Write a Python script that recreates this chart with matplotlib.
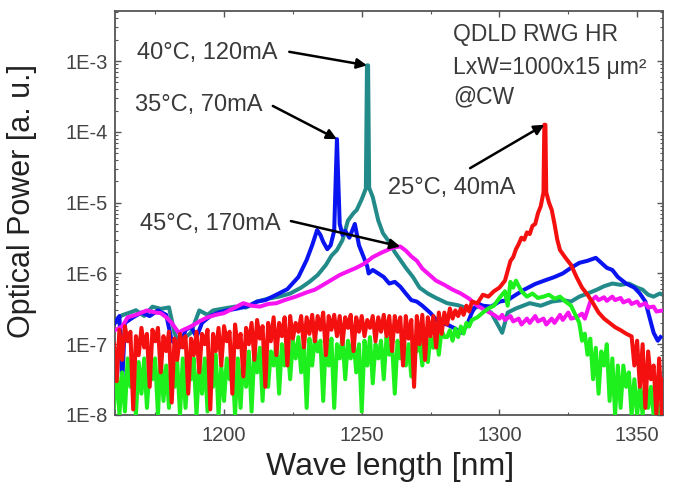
import numpy as np
import matplotlib
matplotlib.use("Agg")
import matplotlib.pyplot as plt
from matplotlib.ticker import FixedLocator, FuncFormatter, LogLocator, NullFormatter

plt.rcParams['font.family'] = ['Liberation Sans', 'DejaVu Sans']

# ---------------- data ----------------
# common 1-nm grid used for the noisy low-level parts of the red / green spectra
grid_wl = [1160, 1161, 1162, 1163, 1164, 1165, 1166, 1167, 1168, 1169,
           1170, 1171, 1172, 1173, 1174, 1175, 1176, 1177, 1178, 1179,
           1180, 1181, 1182, 1183, 1184, 1185, 1186, 1187, 1188, 1189,
           1190, 1191, 1192, 1193, 1194, 1195, 1196, 1197, 1198, 1199,
           1200, 1201, 1202, 1203, 1204, 1205, 1206, 1207, 1208, 1209,
           1210, 1211, 1212, 1213, 1214, 1215, 1216, 1217, 1218, 1219,
           1220, 1221, 1222, 1223, 1224, 1225, 1226, 1227, 1228, 1229,
           1230, 1231, 1232, 1233, 1234, 1235, 1236, 1237, 1238, 1239,
           1240, 1241, 1242, 1243, 1244, 1245, 1246, 1247, 1248, 1249,
           1250, 1251, 1252, 1253, 1254, 1255, 1256, 1257, 1258, 1259,
           1260, 1261, 1262, 1263, 1264, 1265, 1266, 1267, 1268, 1269,
           1270, 1271, 1272, 1273, 1274, 1275, 1276, 1277, 1278, 1279,
           1280, 1281, 1282, 1283, 1284, 1285, 1286, 1287, 1288, 1289,
           1290]

# 25 C, 40 mA (red)
red_grid_p = [1.0e-7, 3.0e-8, 1.6e-7, 6.0e-8, 1.8e-7, 1.1e-7, 1.5e-7, 1.2e-8, 1.3e-7, 7.0e-8,
              1.7e-7, 9.0e-8, 1.4e-7, 2.5e-8, 1.6e-7, 1.1e-7, 1.7e-7, 4.0e-8, 1.3e-7, 8.0e-8,
              1.5e-7, 1.5e-8, 1.2e-7, 6.0e-8, 1.4e-7, 9.0e-8, 1.3e-7, 2.0e-8, 1.2e-7, 7.0e-8,
              1.5e-7, 4.0e-8, 1.4e-7, 1.0e-7, 1.6e-7, 1.2e-8, 1.4e-7, 8.0e-8, 1.7e-7, 5.0e-8,
              1.8e-7, 1.1e-7, 1.5e-7, 2.0e-8, 1.9e-7, 9.0e-8, 1.4e-7, 3.5e-8, 1.7e-7, 1.0e-7,
              2.0e-7, 6.0e-8, 2.2e-7, 1.2e-7, 1.8e-7, 2.5e-8, 2.0e-7, 1.1e-7, 2.4e-7, 7.0e-8,
              2.0e-7, 1.3e-7, 2.4e-7, 5.0e-8, 2.5e-7, 1.2e-7, 2.0e-7, 1.5e-7, 2.5e-7, 9.0e-8,
              2.4e-7, 1.4e-7, 2.6e-7, 1.1e-7, 2.5e-7, 1.6e-7, 2.8e-7, 7.0e-8, 2.5e-7, 1.6e-7,
              2.6e-7, 1.3e-7, 2.5e-7, 1.0e-7, 2.4e-7, 1.7e-7, 2.6e-7, 8.0e-8, 2.4e-7, 1.5e-7,
              2.5e-7, 1.3e-7, 2.2e-7, 1.7e-7, 2.5e-7, 1.1e-7, 2.4e-7, 1.5e-7, 2.6e-7, 1.3e-7,
              2.5e-7, 8.0e-8, 2.5e-7, 1.5e-7, 2.4e-7, 5.0e-8, 2.5e-7, 1.2e-7, 2.2e-7, 2.5e-8,
              2.5e-7, 1.0e-7, 2.6e-7, 6.0e-8, 2.4e-7, 1.3e-7, 2.5e-7, 9.0e-8, 2.8e-7, 1.4e-7,
              2.8e-7, 1.9e-7, 3.2e-7, 2.3e-7, 3.0e-7, 2.5e-7, 3.2e-7, 2.6e-7, 3.5e-7, 2.9e-7,
              4.0e-7]
red_tail_wl = [1292, 1294, 1296, 1298, 1300, 1302, 1304, 1305, 1306, 1307, 1308, 1309, 1310,
               1311, 1312, 1313, 1314, 1315, 1316, 1316.3, 1316.7, 1317, 1318, 1319, 1320,
               1321, 1322, 1324, 1326, 1328, 1330, 1332, 1334, 1336, 1338, 1340, 1342, 1344,
               1346, 1348, 1349, 1350, 1351, 1352, 1353, 1354, 1355, 1356, 1357, 1358, 1359,
               1359.5]
red_tail_p = [3.8e-7, 5.0e-7, 4.7e-7, 5.6e-7, 6.3e-7, 7.9e-7, 1.5e-6, 1.7e-6, 2.2e-6, 2.6e-6,
              3.2e-6, 3.0e-6, 3.8e-6, 3.6e-6, 4.7e-6, 5.0e-6, 7.1e-6, 8.9e-6, 1.4e-5, 1.26e-4,
              1.26e-4, 1.4e-5, 1.0e-5, 7.9e-6, 5.0e-6, 3.0e-6, 2.14e-6, 1.66e-6, 1.32e-6, 8.9e-7,
              6.3e-7, 5.0e-7, 3.8e-7, 2.8e-7, 2.3e-7, 2.0e-7, 1.74e-7, 1.58e-7, 1.41e-7, 1.29e-7,
              5.0e-8, 1.12e-7, 2.5e-8, 1.0e-7, 1.26e-8, 7.9e-8, 3.2e-8, 5.0e-8, 1.0e-8, 6.3e-8,
              1.0e-8, 3.2e-8]

# green (unlabelled)
green_grid_p = [1.26e-8, 5.0e-8, 1.0e-8, 4.0e-8, 1.12e-8, 6.3e-8, 2.5e-8, 5.0e-8, 1.0e-8, 5.6e-8,
                2.0e-8, 6.3e-8, 1.26e-8, 5.0e-8, 3.2e-8, 6.3e-8, 1.0e-8, 7.1e-8, 1.58e-8, 5.0e-8,
                1.26e-8, 6.3e-8, 2.5e-8, 5.6e-8, 1.0e-8, 6.3e-8, 1.26e-8, 5.0e-8, 3.2e-8, 6.3e-8,
                1.0e-8, 5.6e-8, 2.0e-8, 6.3e-8, 1.12e-8, 5.0e-8, 2.5e-8, 7.1e-8, 1.0e-8, 5.0e-8,
                1.58e-8, 6.3e-8, 3.2e-8, 5.6e-8, 1.0e-8, 6.3e-8, 1.26e-8, 7.1e-8, 2.5e-8, 7.9e-8,
                1.12e-8, 7.9e-8, 4.0e-8, 8.9e-8, 1.58e-8, 1.0e-7, 2.5e-8, 7.9e-8, 5.0e-8, 1.05e-7,
                2.0e-8, 1.0e-7, 5.0e-8, 1.12e-7, 3.2e-8, 1.12e-7, 6.3e-8, 1.26e-7, 4.0e-8, 1.12e-7,
                1.26e-8, 1.2e-7, 5.0e-8, 1.26e-7, 7.9e-8, 1.12e-7, 1.58e-8, 1.26e-7, 5.0e-8, 1.2e-7,
                1.26e-8, 1.0e-7, 6.3e-8, 1.26e-7, 3.2e-8, 1.12e-7, 6.3e-8, 1.2e-7, 4.0e-8, 1.0e-7,
                1.12e-8, 1.12e-7, 5.0e-8, 1.26e-7, 2.8e-8, 1.0e-7, 6.3e-8, 1.12e-7, 3.2e-8, 1.26e-7,
                7.1e-8, 1.0e-7, 2.0e-8, 1.12e-7, 6.3e-8, 1.2e-7, 5.0e-8, 1.0e-7, 3.5e-8, 1.26e-7,
                7.9e-8, 1.12e-7, 5.0e-8, 1.41e-7, 5.6e-8, 1.26e-7, 8.9e-8, 1.41e-7, 7.1e-8, 1.58e-7,
                1.26e-7, 1.26e-7, 1.58e-7, 1.12e-7, 1.66e-7, 1.26e-7, 1.78e-7, 1.41e-7, 2.0e-7, 1.78e-7,
                2.2e-7]
green_tail_wl = [1292, 1294, 1296, 1298, 1300, 1302, 1303, 1304, 1305, 1306, 1308, 1310, 1312,
                 1314, 1316, 1318, 1320, 1322, 1324, 1326, 1328, 1329, 1330, 1331, 1332, 1333,
                 1334, 1335, 1336, 1337, 1338, 1339, 1340, 1341, 1342, 1343, 1344, 1345, 1346,
                 1347, 1348, 1349, 1350, 1351, 1352, 1353, 1354, 1355, 1356, 1357, 1358, 1359.5]
green_tail_p = [2.4e-7, 2.8e-7, 3.2e-7, 3.5e-7, 4.5e-7, 5.6e-7, 3.5e-7, 7.6e-7, 6.3e-7, 7.9e-7,
                5.6e-7, 4.7e-7, 5.2e-7, 4.5e-7, 4.7e-7, 5.0e-7, 4.4e-7, 4.7e-7, 4.0e-7, 3.5e-7,
                2.4e-7, 2.0e-7, 1.12e-7, 1.41e-7, 7.1e-8, 1.2e-7, 3.2e-8, 8.9e-8, 2.0e-8, 7.9e-8,
                5.0e-8, 1.0e-7, 1.58e-8, 6.3e-8, 1.0e-8, 5.0e-8, 1.26e-8, 5.0e-8, 2.5e-8, 4.0e-8,
                1.0e-8, 3.2e-8, 1.0e-8, 2.5e-8, 1.0e-8, 3.2e-8, 1.26e-8, 2.5e-8, 1.0e-8, 2.0e-8,
                1.0e-8, 1.58e-8]

# 35 C, 70 mA (blue)
blue_wl = [1160.4, 1162, 1163, 1164, 1167, 1170, 1173, 1176, 1179, 1181, 1184, 1186, 1188, 1190,
           1192, 1195, 1198, 1201, 1205, 1209, 1212, 1215, 1219, 1223, 1227, 1230, 1232, 1233.8,
           1235, 1236, 1237.5, 1238.7, 1240, 1240.6, 1241.0, 1241.4, 1242, 1243, 1244, 1245.5,
           1247.5, 1249, 1250.5, 1252, 1252.5, 1254, 1256, 1258, 1260, 1262, 1264, 1266, 1268,
           1270, 1272, 1275, 1278, 1281, 1284, 1286, 1288, 1290, 1292, 1294, 1297, 1300, 1303,
           1306, 1309, 1313, 1317, 1320, 1323, 1326, 1329, 1332, 1335, 1337, 1339, 1341, 1343,
           1346, 1349, 1351, 1353, 1354.5, 1356, 1357.5, 1358.5]
blue_p = [2.0e-7, 2.5e-7, 2.8e-8, 2.0e-7, 2.4e-7, 2.8e-7, 2.5e-7, 3.0e-7, 2.6e-7, 1.12e-7,
          9.1e-8, 1.58e-7, 1.78e-7, 1.26e-7, 2.0e-7, 2.5e-7, 2.8e-7, 3.0e-7, 3.2e-7, 3.5e-7,
          4.0e-7, 4.2e-7, 5.0e-7, 6.0e-7, 8.9e-7, 1.55e-6, 2.5e-6, 4.1e-6, 3.5e-6, 2.8e-6,
          2.2e-6, 2.5e-6, 4.0e-6, 2.5e-5, 7.9e-5, 2.5e-5, 5.0e-6, 3.5e-6, 4.0e-6, 3.2e-6,
          5.0e-6, 2.5e-6, 1.78e-6, 1.26e-6, 1.0e-6, 1.12e-6, 1.0e-6, 8.9e-7, 7.2e-7, 7.6e-7,
          6.5e-7, 5.2e-7, 4.2e-7, 4.0e-7, 3.5e-7, 2.75e-7, 2.0e-7, 1.9e-7, 1.66e-7, 1.45e-7,
          1.78e-7, 2.8e-7, 3.8e-7, 3.5e-7, 3.4e-7, 4.0e-7, 4.2e-7, 5.0e-7, 5.9e-7, 7.1e-7,
          8.1e-7, 8.9e-7, 1.0e-6, 1.2e-6, 1.41e-6, 1.51e-6, 1.66e-6, 1.41e-6, 1.2e-6, 1.12e-6,
          8.9e-7, 7.2e-7, 6.3e-7, 5.2e-7, 4.0e-7, 2.4e-7, 1.45e-7, 1.12e-7, 1.26e-7]

# 40 C, 120 mA (teal)
teal_wl = [1160.4, 1163, 1166, 1168, 1171, 1174, 1177, 1180, 1182, 1184, 1186, 1188, 1191, 1194,
           1196, 1200, 1204, 1208, 1212, 1216, 1220, 1224, 1228, 1231, 1234, 1237, 1239, 1241,
           1243, 1245, 1247, 1248.2, 1250, 1251.5, 1251.9, 1252.3, 1252.7, 1254, 1256, 1257.7,
           1260.2, 1262, 1264, 1266, 1268.6, 1271, 1274, 1277, 1281, 1285, 1289, 1293, 1297,
           1301, 1303, 1306, 1311, 1315, 1319, 1323, 1326, 1329, 1332, 1335.4, 1338, 1341, 1344,
           1347, 1350, 1352, 1354, 1356, 1358.2, 1359.4]
teal_p = [2.19e-7, 2.57e-7, 2.82e-7, 3.02e-7, 2.51e-7, 3.39e-7, 3.16e-7, 3.31e-7, 1.45e-7, 9.1e-8,
          1.26e-7, 1.45e-7, 3.0e-7, 2.6e-7, 3.0e-7, 3.2e-7, 3.4e-7, 3.3e-7, 4.0e-7, 4.4e-7,
          4.7e-7, 5.2e-7, 6.3e-7, 7.6e-7, 9.5e-7, 1.32e-6, 1.78e-6, 2.14e-6, 2.95e-6, 5.6e-6,
          7.1e-6, 7.9e-6, 1.12e-5, 1.58e-5, 8.7e-4, 8.7e-4, 1.62e-5, 1.2e-5, 5.6e-6, 3.7e-6,
          2.7e-6, 2.0e-6, 1.55e-6, 1.2e-6, 8.9e-7, 6.3e-7, 5.2e-7, 4.5e-7, 3.8e-7, 3.55e-7,
          3.16e-7, 3.4e-7, 2.8e-7, 1.45e-7, 2.8e-7, 3.2e-7, 3.8e-7, 3.5e-7, 4.0e-7, 4.2e-7,
          4.0e-7, 4.7e-7, 5.2e-7, 5.9e-7, 6.6e-7, 7.2e-7, 6.9e-7, 7.2e-7, 6.3e-7, 5.9e-7,
          5.0e-7, 4.7e-7, 5.2e-7, 5.0e-7]

# 45 C, 170 mA (magenta)
mag_wl = [1160.4, 1163, 1165, 1168, 1172, 1175, 1177, 1179, 1181, 1183.5, 1185, 1188, 1191, 1194,
          1197, 1200, 1204, 1207, 1210, 1213, 1216, 1219, 1222, 1226, 1230, 1233, 1236, 1239,
          1242, 1245, 1248, 1251, 1254, 1257, 1260, 1262, 1264, 1266, 1268, 1270, 1272, 1274,
          1277, 1280, 1283, 1286, 1289, 1292, 1295, 1298, 1300, 1301, 1302, 1304, 1305, 1307,
          1308, 1310, 1311, 1313, 1314, 1316, 1317, 1319, 1320, 1322, 1323, 1325, 1326, 1328,
          1330, 1331, 1333, 1335, 1336, 1338, 1339, 1341, 1342, 1344, 1345, 1347, 1348, 1350,
          1351, 1353, 1354, 1356, 1357, 1359.4]
mag_p = [1.58e-7, 1.78e-7, 2.4e-7, 2.6e-7, 3.0e-7, 2.8e-7, 2.75e-7, 2.4e-7, 2.0e-7, 1.45e-7,
         1.58e-7, 1.78e-7, 2.1e-7, 2.4e-7, 2.6e-7, 2.75e-7, 3.3e-7, 3.8e-7, 3.5e-7, 3.4e-7,
         3.7e-7, 3.8e-7, 4.2e-7, 4.7e-7, 5.4e-7, 5.9e-7, 6.9e-7, 8.1e-7, 9.5e-7, 1.07e-6,
         1.2e-6, 1.38e-6, 1.7e-6, 1.95e-6, 2.2e-6, 2.35e-6, 2.4e-6, 2.1e-6, 1.74e-6, 1.51e-6,
         1.17e-6, 1.0e-6, 7.9e-7, 6.9e-7, 5.9e-7, 5.2e-7, 4.4e-7, 3.5e-7, 3.0e-7, 2.6e-7,
         2.3e-7, 2.6e-7, 2.2e-7, 2.5e-7, 2.1e-7, 2.3e-7, 1.9e-7, 2.3e-7, 2.0e-7, 2.5e-7,
         2.1e-7, 2.3e-7, 1.9e-7, 2.3e-7, 2.0e-7, 2.6e-7, 2.2e-7, 2.8e-7, 2.3e-7, 2.4e-7,
         2.7e-7, 2.3e-7, 4.0e-7, 4.7e-7, 4.2e-7, 4.6e-7, 4.1e-7, 4.7e-7, 4.2e-7, 4.5e-7,
         3.9e-7, 4.2e-7, 3.7e-7, 4.0e-7, 3.5e-7, 3.8e-7, 3.3e-7, 3.4e-7, 2.9e-7, 3.0e-7]

labels = {"red": "25°C, 40mA", "blue": "35°C, 70mA",
          "teal": "40°C, 120mA", "mag": "45°C, 170mA"}
info_lines = ["QDLD RWG HR", "LxW=1000x15 μm²", "@CW"]
x_ticks = [1200, 1250, 1300, 1350]
y_ticks = [1e-8, 1e-7, 1e-6, 1e-5, 1e-4, 1e-3]

# ---------------- figure ----------------
fig = plt.figure(figsize=(6.75, 4.96), dpi=100)
ax = fig.add_axes([115 / 675, 81 / 496, 548 / 675, 404 / 496])

lw = 2.9
c_teal, c_blue, c_mag, c_green, c_red = "#238a8a", "#0a14f0", "#f814f0", "#1ef01e", "#f51010"
ax.plot(teal_wl, teal_p, color=c_teal, lw=lw, zorder=2)
ax.plot(blue_wl, blue_p, color=c_blue, lw=lw, zorder=3)
ax.plot(mag_wl, mag_p, color=c_mag, lw=lw, zorder=4)
ax.plot(grid_wl + green_tail_wl, green_grid_p + green_tail_p, color=c_green, lw=lw, zorder=5)
ax.plot(grid_wl + red_tail_wl, red_grid_p + red_tail_p, color=c_red, lw=lw, zorder=6)

ax.set_yscale("log")
ax.set_xlim(1160.4, 1359.4)
ax.set_ylim(1e-8, 5.1e-3)

ax.xaxis.set_major_locator(FixedLocator(x_ticks))
ax.xaxis.set_minor_locator(FixedLocator([1175, 1225, 1275, 1325]))
ax.yaxis.set_major_locator(FixedLocator(y_ticks))
ax.yaxis.set_minor_locator(LogLocator(base=10, subs=np.arange(2, 10)))
ax.yaxis.set_minor_formatter(NullFormatter())
ax.yaxis.set_major_formatter(FuncFormatter(lambda v, p: "1E%d" % round(np.log10(v))))

ax.tick_params(which="both", direction="in", top=True, right=True, colors="#555555",
               labelcolor="#444444", labelsize=14.5)
ax.tick_params(which="major", length=4, width=1.0)
ax.tick_params(axis="x", which="major", pad=8)
ax.tick_params(axis="y", which="major", pad=5)
ax.tick_params(which="minor", length=2.5, width=0.8)
for s in ax.spines.values():
    s.set_color("#555555")
    s.set_linewidth(1.3)

ax.set_xlabel("Wave length [nm]", fontsize=23, color="#222222")
ax.set_ylabel("Optical Power [a. u.]", fontsize=22, color="#222222")
ax.xaxis.set_label_coords(0.502, -0.092)
ax.yaxis.set_label_coords(-0.143, 0.53)

tc = "#3a3a3a"
fs = 17
arrow = dict(arrowstyle="-|>", color="black", lw=1.8, mutation_scale=15, shrinkA=0, shrinkB=0)

def peak(wl, p):
    i = int(np.argmax(p))
    return wl[i], p[i]

ax.text(0.040, 0.896, labels["teal"], transform=ax.transAxes, fontsize=fs, color=tc,
        ha="left", va="center")
ax.annotate("", xy=peak(teal_wl, teal_p), xycoords="data", xytext=(0.318, 0.899),
            textcoords="axes fraction", arrowprops=arrow, zorder=8)

ax.text(0.036, 0.767, labels["blue"], transform=ax.transAxes, fontsize=fs, color=tc,
        ha="left", va="center")
ax.annotate("", xy=peak(blue_wl, blue_p), xycoords="data", xytext=(0.288, 0.765),
            textcoords="axes fraction", arrowprops=arrow, zorder=8)

ax.text(0.046, 0.473, labels["mag"], transform=ax.transAxes, fontsize=fs, color=tc,
        ha="left", va="center", zorder=9)
ax.annotate("", xy=peak(mag_wl, mag_p), xycoords="data", xytext=(0.321, 0.480),
            textcoords="axes fraction", arrowprops=arrow, zorder=8)

ax.text(0.498, 0.562, labels["red"], transform=ax.transAxes, fontsize=fs, color=tc,
        ha="left", va="center")
ax.annotate("", xy=peak(grid_wl + red_tail_wl, red_grid_p + red_tail_p), xycoords="data",
            xytext=(0.648, 0.611), textcoords="axes fraction", arrowprops=arrow, zorder=8)

for yy, line in zip([0.941, 0.861, 0.787], info_lines):
    ax.text(0.617, yy, line, transform=ax.transAxes, fontsize=fs - 0.5, color=tc,
            ha="left", va="center")

fig.savefig("out.png", dpi=100)
